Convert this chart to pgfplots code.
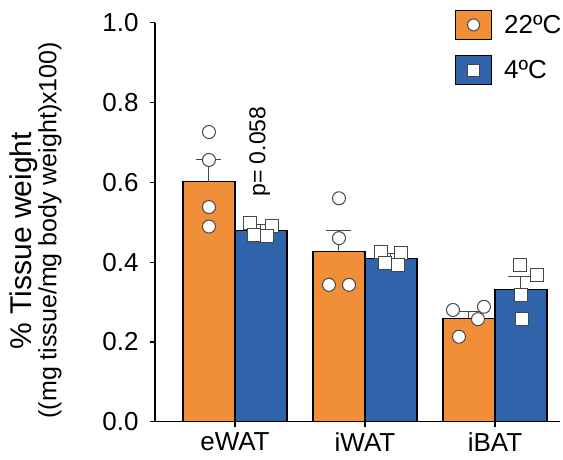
\documentclass[border=0pt]{standalone}
\usepackage{pgfplots}
\pgfplotsset{compat=1.18}
\usepackage{fontspec}
\setmainfont{Liberation Sans}
\definecolor{barorange}{RGB}{241,142,56}
\definecolor{barblue}{RGB}{47,100,170}
\definecolor{mkgray}{RGB}{70,70,70}
\begin{document}
\begin{tikzpicture}
\path[use as bounding box] (0,0) rectangle (563pt,459pt);
\begin{axis}[
  at={(155pt,37.3pt)}, anchor=south west,
  scale only axis, width=405pt, height=399pt,
  xmin=-0.615, xmax=2.5, ymin=0, ymax=1,
  axis x line*=bottom, axis y line*=left,
  axis line style={line width=1.3pt, black},
  xtick={0,1,2}, xticklabels={eWAT,iWAT,iBAT},
  ytick={0,0.2,0.4,0.6,0.8,1},
  tick align=outside, major tick length=5pt,
  tick style={line width=1.2pt, black},
  yticklabel style={/pgf/number format/fixed, /pgf/number format/fixed zerofill, /pgf/number format/precision=1, xshift=-8pt},
  xticklabel style={yshift=-2pt},
  /pgf/number format/assume math mode=true,
  ticklabel style={font=\fontsize{26}{30}\selectfont},
  ylabel={{\fontsize{30}{34}\selectfont\% Tissue weight\hspace*{21pt}}\\{\fontsize{25}{29}\selectfont ((mg tissue/mg body weight)x100)}},
  ylabel style={align=center, at={(axis description cs:-0.23,0.48)}, anchor=south, inner sep=0pt},
  legend style={draw=none, fill=none, at={(axis description cs:0.741,1.032)}, anchor=north west,
    inner sep=0pt, outer sep=0pt, row sep=15.5pt, font=\fontsize{26}{30}\selectfont,
    nodes={inner sep=0pt}, /tikz/every odd column/.style={column sep=12pt}},
  legend cell align=left,
  legend entries={22ºC,4ºC},
]
\addlegendimage{legend image code/.code={\draw[fill=barorange, draw=black, line width=1pt] (0pt,-14.5pt) rectangle (36pt,14.5pt); \draw[fill=white, draw=mkgray, line width=1pt] (18pt,0pt) circle (6pt);}}
\addlegendimage{legend image code/.code={\draw[fill=barblue, draw=black, line width=1pt] (0pt,-14.5pt) rectangle (36pt,14.5pt); \draw[fill=white, draw=mkgray, line width=1pt] (12pt,-6pt) rectangle (24pt,6pt);}}

\addplot[ybar, bar width=0.4, bar shift=0pt, fill=barorange, draw=black, line width=1.2pt,
  error bars/.cd, y dir=plus, y explicit,
  error bar style={line width=1pt, mkgray},
  error mark options={rotate=90, line width=1pt, mkgray, mark size=12.5pt}]
coordinates {(-0.2,0.602) +- (0,0.054) (0.8,0.427) +- (0,0.052) (1.8,0.259) +- (0,0.017)};

\addplot[ybar, bar width=0.4, bar shift=0pt, fill=barblue, draw=black, line width=1.2pt,
  error bars/.cd, y dir=plus, y explicit,
  error bar style={line width=1pt, mkgray},
  error mark options={rotate=90, line width=1pt, mkgray, mark size=12.5pt}]
coordinates {(0.2,0.480) +- (0,0.015) (1.2,0.410) +- (0,0.012) (2.2,0.332) +- (0,0.031)};

\addplot[only marks, mark=*, mark size=6.5pt, mark options={fill=white, draw=mkgray, line width=1pt}]
coordinates {(-0.2,0.726) (-0.2,0.656) (-0.2,0.538) (-0.2,0.489)
             (0.8,0.560) (0.8,0.460) (0.723,0.343) (0.877,0.343)
             (1.677,0.280) (1.915,0.288) (1.869,0.257) (1.723,0.213)};

\addplot[only marks, mark=square*, mark size=6.5pt, mark options={fill=white, draw=mkgray, line width=1pt}]
coordinates {(0.115,0.497) (0.282,0.490) (0.146,0.468) (0.244,0.465)
             (1.123,0.426) (1.277,0.423) (1.154,0.398) (1.254,0.393)
             (2.192,0.393) (2.323,0.368) (2.200,0.318) (2.208,0.257)};

\node[rotate=90, font=\fontsize{23}{27}\selectfont] at (axis cs:0.19,0.677) {p= 0.058};
\end{axis}
\end{tikzpicture}
\end{document}
